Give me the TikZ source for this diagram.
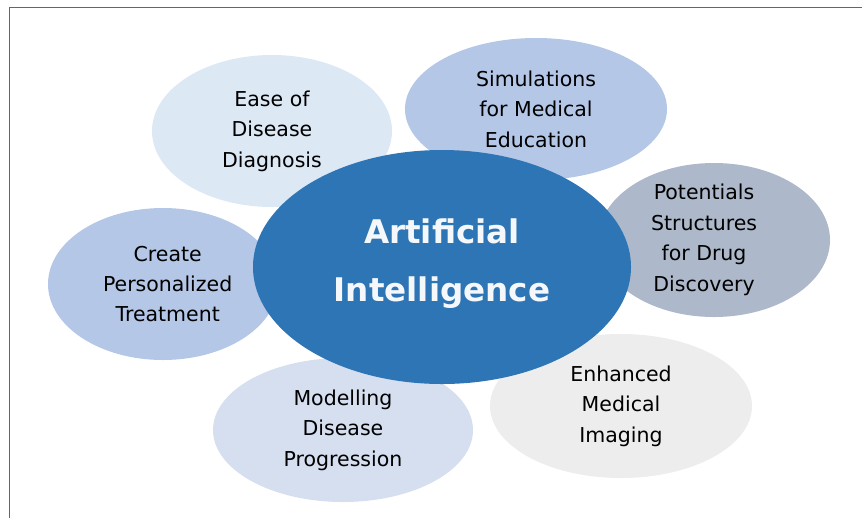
\documentclass[tikz,border=0pt]{standalone}
\usepackage{fontspec}
\setmainfont{DejaVu Sans}
\definecolor{aiblue}{HTML}{2E75B6}
\definecolor{easefill}{HTML}{DDE8F5}
\definecolor{simfill}{HTML}{B4C7E7}
\definecolor{potfill}{HTML}{ADB9CA}
\definecolor{createfill}{HTML}{B4C7E7}
\definecolor{modelfill}{HTML}{D6DFF0}
\definecolor{imagfill}{HTML}{EDEDED}
\definecolor{framegray}{HTML}{666666}
\tikzset{
    bubbletext/.style={align=center, text=black, inner sep=0pt,
        font=\fontsize{17.5}{26}\selectfont},
    hubtext/.style={align=center, text=white!95!aiblue, inner sep=0pt,
        font=\fontsize{27.8}{49.5}\selectfont\bfseries},
}
% #1 text shift, #2 name, #3 colour, #4 centre, #5/#6 radii, #7 text
\newcommand\Bubble[7][0pt]{%
    \fill[#3] (#4) ellipse [x radius=#5, y radius=#6];
    \node[bubbletext, xshift=#1] (#2) at (#4) {#7};
}

\begin{document}
\begin{tikzpicture}[x=0.03cm,y=-0.03cm]
    \useasboundingbox (0,0) rectangle (862,518);
    \draw[framegray, line width=1.6pt] (9.5,518) -- (9.5,7.5) -- (862,7.5);
    % outer ring
    \Bubble{ease}{easefill}{272,131}{3.6cm}{2.28cm}{Ease of\\Disease\\Diagnosis}
    \Bubble{sim}{simfill}{536,109}{3.93cm}{2.13cm}{Simulations\\for Medical\\Education}
    \Bubble[-8.5pt]{pot}{potfill}{714,240}{3.48cm}{2.31cm}{Potentials\\Structures\\for Drug\\Discovery}
    \Bubble[4pt]{create}{createfill}{163,284}{3.45cm}{2.28cm}{Create\\Personalized\\Treatment}
    \Bubble{model}{modelfill}{343,430}{3.9cm}{2.16cm}{Modelling\\Disease\\Progression}
    \Bubble{imag}{imagfill}{621,406}{3.93cm}{2.16cm}{Enhanced\\Medical\\Imaging}
    % centre
    \fill[aiblue] (442,267) ellipse [x radius=5.67cm, y radius=3.51cm];
    \node[hubtext] (ai) at (442,264) {Artificial\\Intelligence};
\end{tikzpicture}
\end{document}
